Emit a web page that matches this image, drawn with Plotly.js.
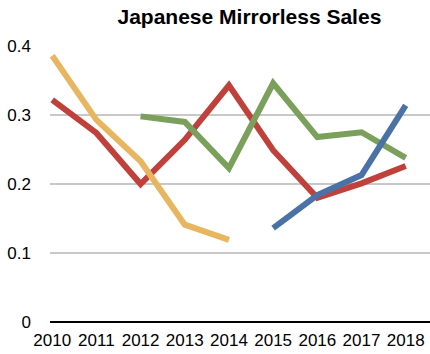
<!DOCTYPE html>
<html><head><meta charset="utf-8">
<script src="https://cdn.plot.ly/plotly-3.0.1.min.js"></script>
<style>body{margin:0;background:#fff}#c{width:430px;height:354px}</style>
</head><body><div id="c"></div>
<script>
const years = ['2010','2011','2012','2013','2014','2015','2016','2017','2018'];
const yellowVals = [0.386, 0.293, 0.233, 0.141, 0.119, null, null, null, null];
const redVals    = [0.322, 0.274, 0.200, 0.264, 0.343, 0.249, 0.180, 0.201, 0.226];
const greenVals  = [null, null, 0.298, 0.290, 0.223, 0.346, 0.268, 0.275, 0.238];
const blueVals   = [null, null, null, null, null, 0.136, 0.184, 0.213, 0.314];
const yTicks = [0, 0.1, 0.2, 0.3, 0.4];
const yTickText = ['0', '0.1', '0.2', '0.3', '0.4'];

function tr(vals, color){
  return {x: years, y: vals, type:'scatter', mode:'lines',
    line:{color: color, width: 6}, hoverinfo:'none'};
}
const data = [
  tr(redVals, '#C0413C'),
  tr(greenVals, '#7BA05B'),
  tr(yellowVals, '#E8B661'),
  tr(blueVals, '#4A72A6')
];
const layout = {
  width: 430, height: 354,
  margin: {l: 50, r: 0, t: 46, b: 32},
  showlegend: false,
  paper_bgcolor: '#fff', plot_bgcolor: '#fff',
  font: {family: 'Liberation Sans, Arial, sans-serif', color: '#000'},
  title: {text: '<b>Japanese Mirrorless Sales</b>', font: {size: 21, color: '#000'},
    x: 0.58, xanchor: 'center', y: 0.952, yanchor: 'middle'},
  xaxis: {type: 'category', range: [-0.05, 8.55], showgrid: false, zeroline: false,
    showline: false, ticks: '', tickfont: {size: 17}, ticklabelstandoff: 6, fixedrange: true},
  yaxis: {range: [0, 0.4], tickvals: yTicks, ticktext: yTickText, showgrid: true,
    gridcolor: '#c8c8c8', gridwidth: 1.5, zeroline: true, zerolinecolor: '#000',
    zerolinewidth: 1.5, ticks: '', tickfont: {size: 17}, ticklabelstandoff: 18, fixedrange: true}
};
Plotly.newPlot('c', data, layout, {displayModeBar: false, staticPlot: true});
</script></body></html>
